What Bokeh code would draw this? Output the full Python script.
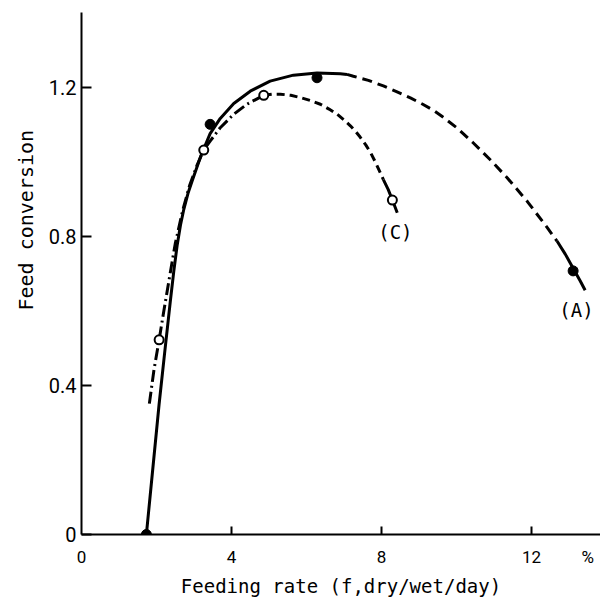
from bokeh.plotting import figure
from bokeh.models import Range1d, FixedTicker, Label, Title
from bokeh.embed import file_html
from bokeh.resources import INLINE

# ---- data ----
# Curve (A): solid rising part, dashed middle, solid tail
a_solid1_x = [1.70, 1.73, 1.90, 2.07, 2.22, 2.37, 2.46, 2.55, 2.64, 2.73, 2.84, 2.95, 3.17, 3.43, 3.70, 4.06, 4.50, 5.03, 5.65, 6.28, 6.90, 7.08]
a_solid1_y = [-0.03, 0.0, 0.175, 0.35, 0.49, 0.627, 0.705, 0.775, 0.83, 0.873, 0.915, 0.948, 1.012, 1.075, 1.116, 1.156, 1.189, 1.216, 1.232, 1.238, 1.236, 1.234]
a_dash_x = [7.08, 7.25, 7.65, 8.05, 8.40, 8.77, 9.10, 9.38, 9.62, 10.02, 10.45, 10.90, 11.35, 11.89, 12.42, 12.68]
a_dash_y = [1.234, 1.229, 1.218, 1.203, 1.188, 1.171, 1.154, 1.138, 1.121, 1.090, 1.050, 1.005, 0.957, 0.893, 0.823, 0.787]
a_solid2_x = [12.68, 12.90, 13.11, 13.30, 13.43]
a_solid2_y = [0.787, 0.752, 0.714, 0.680, 0.655]

# Curve (C): dash-dot rising part, dashed middle, solid tail
c_dashdot_x = [1.81, 1.93, 2.07, 2.18, 2.33, 2.50, 2.70, 2.88, 3.08, 3.26, 3.43, 3.70, 4.06, 4.41, 4.86]
c_dashdot_y = [0.351, 0.44, 0.522, 0.59, 0.68, 0.78, 0.87, 0.935, 0.99, 1.031, 1.055, 1.091, 1.127, 1.154, 1.178]
c_dash_x = [4.86, 5.10, 5.30, 5.58, 5.83, 6.10, 6.37, 6.60, 6.82, 7.00, 7.17, 7.30, 7.43, 7.58, 7.72, 7.85, 7.97, 8.05]
c_dash_y = [1.178, 1.181, 1.181, 1.178, 1.172, 1.164, 1.154, 1.141, 1.127, 1.112, 1.096, 1.082, 1.066, 1.045, 1.022, 0.996, 0.970, 0.952]
c_solid_x = [8.05, 8.18, 8.29, 8.42]
c_solid_y = [0.952, 0.925, 0.897, 0.863]

# observed points
a_pts_x = [1.73, 3.43, 6.28, 13.11]
a_pts_y = [0.0, 1.10, 1.225, 0.707]
c_pts_x = [2.07, 3.26, 4.86, 8.29]
c_pts_y = [0.522, 1.031, 1.178, 0.897]

x_ticks = [0, 4, 8, 12, 13.5]
x_tick_labels = ["0", "4", "8", "12", "%"]
x_tick_marks = [4, 8, 12]
y_ticks = [0, 0.4, 0.8, 1.2]
y_tick_labels = ["0", "0.4", "0.8", "1.2"]

x_title = "Feeding rate (f,dry/wet/day)"
y_title = "Feed conversion"
curve_names = ["(C)", "(A)"]

FONT = "DejaVu Sans Mono"
TICKFONT = "Roboto"

p = figure(width=600, height=600, output_backend="svg", toolbar_location=None,
           x_range=Range1d(0, 13.84), y_range=Range1d(0, 1.4),
           min_border_left=81, min_border_right=0, min_border_top=12, min_border_bottom=66)
p.grid.visible = False
p.outline_line_color = None
p.background_fill_color = "white"
p.border_fill_color = "white"

# x axis: labels on major ticks, marks drawn as (inward) minor ticks
xa = p.xaxis[0]
xa.ticker = FixedTicker(ticks=x_ticks, minor_ticks=x_tick_marks)
xa.major_label_overrides = {t: l for t, l in zip(x_ticks, x_tick_labels)}
xa.major_tick_line_color = None
xa.major_tick_in = 0
xa.major_tick_out = 0
xa.minor_tick_in = 8
xa.minor_tick_out = 0
xa.minor_tick_line_width = 2
xa.minor_tick_line_color = "black"
xa.axis_line_width = 2
xa.major_label_standoff = 12
xa.major_label_text_font = TICKFONT
xa.major_label_text_font_size = "17px"
xa.major_label_text_color = "black"
xa.axis_label = x_title
xa.axis_label_text_font = FONT
xa.axis_label_text_font_size = "19px"
xa.axis_label_text_font_style = "normal"
xa.axis_label_text_color = "black"
xa.axis_label_standoff = 5

# y axis
ya = p.yaxis[0]
ya.ticker = FixedTicker(ticks=y_ticks)
ya.major_label_overrides = {t: l for t, l in zip(y_ticks, y_tick_labels)}
ya.major_tick_in = 10
ya.major_tick_out = 0
ya.minor_tick_line_color = None
ya.axis_line_width = 2
ya.major_tick_line_width = 2
ya.major_label_standoff = 5
ya.major_label_text_font = TICKFONT
ya.major_label_text_font_size = "20px"
ya.major_label_text_color = "black"

# y title as a side title so it can sit off-centre like the original
p.add_layout(Title(text=y_title, align="left", offset=224, text_font=FONT,
                   text_font_size="20px", text_font_style="normal", text_color="black",
                   standoff=16), "left")

# curves
p.line(a_solid1_x, a_solid1_y, line_color="black", line_width=3)
p.line(a_dash_x, a_dash_y, line_color="black", line_width=3, line_dash="10 6")
p.line(a_solid2_x, a_solid2_y, line_color="black", line_width=3)
p.line(c_dashdot_x, c_dashdot_y, line_color="black", line_width=3, line_dash="12 4 2 4")
p.line(c_dash_x, c_dash_y, line_color="black", line_width=3, line_dash="8 5")
p.line(c_solid_x, c_solid_y, line_color="black", line_width=3)

p.scatter(a_pts_x, a_pts_y, size=10, fill_color="black", line_color="black")
p.scatter(c_pts_x, c_pts_y, size=9, fill_color="white", line_color="black", line_width=2)

# curve labels
p.add_layout(Label(x=8.37, y=0.812, text=curve_names[0], text_font=FONT, text_font_size="19px",
                   text_align="center", text_baseline="middle", text_color="black"))
p.add_layout(Label(x=13.2, y=0.603, text=curve_names[1], text_font=FONT, text_font_size="19px",
                   text_align="center", text_baseline="middle", text_color="black"))

open("out.html", "w").write(file_html(p, INLINE))
